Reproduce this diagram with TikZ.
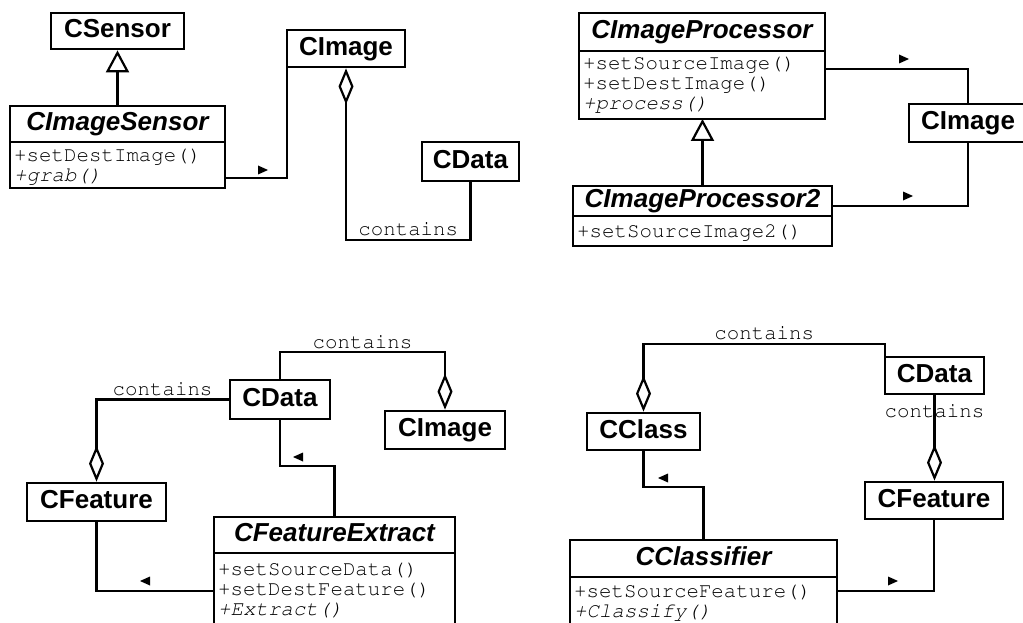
\documentclass[tikz,border=0pt]{standalone}
\usepackage[T1]{fontenc}
\usepackage{fontspec}
\usetikzlibrary{arrows.meta,calc}
\newfontfamily\clsfont{Liberation Sans}
\newcommand\courfont{\fontencoding{T1}\fontfamily{pcr}\selectfont}
\tikzset{
  cls/.style={inner sep=0pt, outer sep=0pt, font=\clsfont\bfseries\fontsize{26}{30}\selectfont, text height=18.7pt, text depth=5pt},
  clsbox/.style={cls, draw, line width=2.8pt, outer sep=1.4pt},
  opsbox/.style={inner sep=0pt, outer sep=0pt},
  boxline/.style={line width=2.8pt},
  divline/.style={line width=1.6pt},
  ops/.style={inner sep=0pt, anchor=base west, font=\courfont\fontsize{20.8}{21}\selectfont},
  lbl/.style={inner sep=0pt, font=\courfont\fontsize{20.8}{21}\selectfont},
  conn/.style={line width=2.8pt},
  agg/.style={conn, -{Diamond[open,length=36pt,width=15pt,line width=2.2pt]}},
  gen/.style={conn, -{Triangle[open,length=22pt,width=23pt,line width=2.2pt]}},
  navr/.pic={\fill (-5,-4.5) -- (5,0) -- (-5,4.5) -- cycle;},
  navl/.pic={\fill (5,-4.5) -- (-5,0) -- (5,4.5) -- cycle;},
}
\begin{document}
\begin{tikzpicture}[x=1pt,y=-1pt]
\clip (0,0) rectangle (1023,623);
\fill[white] (0,0) rectangle (1023,623);

% ---------- top left ----------
\node[clsbox, minimum width=133pt, minimum height=36pt] (csensor) at (117.5,31) {CSensor};
\node[cls, minimum width=215pt, minimum height=36pt] (cis) at (117.5,124) {\itshape CImageSensor};
\node[opsbox, minimum width=215pt, minimum height=46pt, anchor=north] (cisops) at (cis.south) {};
\draw[boxline] (cis.north west) rectangle (cisops.south east);
\draw[divline] (cis.south west) -- (cis.south east);
\node[ops] (cis1) at ($(cis.south west)+(4,20)$) {+setDestImage()};
\node[ops] (cis2) at ($(cis.south west)+(4,40)$) {\itshape +grab()};
\node[clsbox, minimum width=118pt, minimum height=37pt] (cimg1) at (346,48.5) {CImage};
\node[clsbox, minimum width=97pt, minimum height=39pt] (cdata1) at (470.5,161.5) {CData};

\draw[gen] (cis.north) -- (csensor.south);
\draw[conn] ([yshift=10pt]cisops.south east) -| ([xshift=1.4pt,yshift=1.4pt]cimg1.south west);
\pic at (263,170) {navr};
\coordinate (k1) at (0,240);
\draw[agg] (cdata1.south) -- (cdata1.south |- k1) -- node[lbl, anchor=base, yshift=5pt] (l1) {contains} (cimg1.south |- k1) -- (cimg1.south);

% ---------- top right ----------
\node[cls, minimum width=246pt, minimum height=38pt] (cip) at (702,32) {\itshape CImageProcessor};
\node[opsbox, minimum width=246pt, minimum height=68pt, anchor=north] (cipops) at (cip.south) {};
\draw[boxline] (cip.north west) rectangle (cipops.south east);
\draw[divline] (cip.south west) -- (cip.south east);
\node[ops] (cip1) at ($(cip.south west)+(4,19)$) {+setSourceImage()};
\node[ops] (cip2l) at ($(cip.south west)+(4,39)$) {+setDestImage()};
\node[ops] (cip3) at ($(cip.south west)+(4,59)$) {\itshape +process()};

\node[cls, minimum width=259pt, minimum height=30pt] (cipb) at (702.5,201) {\itshape CImageProcessor2};
\node[opsbox, minimum width=259pt, minimum height=30pt, anchor=north] (cipbops) at (cipb.south) {};
\draw[boxline] (cipb.north west) rectangle (cipbops.south east);
\draw[divline] (cipb.south west) -- (cipb.south east);
\node[ops] (cipb1) at ($(cipb.south west)+(4,21)$) {+setSourceImage2()};

\node[clsbox, minimum width=118pt, minimum height=38pt] (cimg2) at (968,123) {CImage};

\draw[gen] (cipb.north) -- (cipb.north |- cipops.south);
\draw[conn] ([yshift=-18pt]cipops.north east) -| (cimg2.north);
\pic at (904,59) {navr};
\draw[conn] ([yshift=-5pt]cipb.east) -| (cimg2.south);
\pic at (908,196) {navr};

% ---------- bottom left ----------
\node[clsbox, minimum width=100pt, minimum height=39pt] (cdata3) at (280,399.5) {CData};
\node[clsbox, minimum width=120pt, minimum height=38pt] (cimg3) at (445,430) {CImage};
\node[clsbox, minimum width=139pt, minimum height=38pt] (cfeat3) at (96.5,502) {CFeature};
\node[cls, minimum width=241pt, minimum height=36pt] (cfe) at (334.5,535) {\itshape CFeatureExtract};
\node[opsbox, minimum width=241pt, minimum height=90pt, anchor=north] (cfeops) at (cfe.south) {};
\draw[boxline] (cfe.north west) rectangle (cfeops.south east);
\draw[divline] (cfe.south west) -- (cfe.south east);
\node[ops] (cfe1) at ($(cfe.south west)+(4,22)$) {+setSourceData()};
\node[ops] (cfe2) at ($(cfe.south west)+(4,42)$) {+setDestFeature()};
\node[ops] (cfe3) at ($(cfe.south west)+(4,62)$) {\itshape +Extract()};

\coordinate (k3) at (0,352);
\draw[agg] (cdata3.north) -- (cdata3.north |- k3) -- node[lbl, anchor=base, yshift=4pt] (l3) {contains} (cimg3.north |- k3) -- (cimg3.north);
\draw[agg] (cdata3.west) -- node[lbl, anchor=base, yshift=4.5pt] (l4) {contains} (cdata3.west -| cfeat3.north) -- (cfeat3.north);
\coordinate (k4) at (0,466);
\draw[conn] (cdata3.south) -- (cdata3.south |- k4) -- (cfe.north |- k4) -- (cfe.north);
\pic at (298,457) {navl};
\draw[conn] (cfeat3.south) |- ([yshift=-38pt]cfeops.north west);
\pic at (145,581) {navl};

% ---------- bottom right ----------
\node[clsbox, minimum width=99pt, minimum height=37pt] (cdata4) at (934.5,375.5) {CData};
\node[clsbox, minimum width=113pt, minimum height=37pt] (cclass) at (643.5,431.5) {CClass};
\node[clsbox, minimum width=138pt, minimum height=37pt] (cfeat4) at (934,500.5) {CFeature};
\node[cls, minimum width=267pt, minimum height=37pt] (ccl) at (703.5,558.5) {\itshape CClassifier};
\node[opsbox, minimum width=267pt, minimum height=80pt, anchor=north] (cclops) at (ccl.south) {};
\draw[boxline] (ccl.north west) rectangle (cclops.south east);
\draw[divline] (ccl.south west) -- (ccl.south east);
\node[ops] (ccl1) at ($(ccl.south west)+(4,20)$) {+setSourceFeature()};
\node[ops] (ccl2) at ($(ccl.south west)+(4,40)$) {\itshape +Classify()};

\coordinate (k5) at (0,344);
\coordinate (cd4nw) at ([xshift=1.4pt,yshift=-1.4pt]cdata4.north west);
\draw[agg] (cd4nw) -- (cd4nw |- k5) -- node[lbl, anchor=base, yshift=5pt] (l5) {contains} (cclass.north |- k5) -- (cclass.north);
\draw[agg] (cdata4.south) -- node[lbl, pos=0.26, anchor=base] (l6) {contains} (cdata4.south |- cfeat4.north);
\coordinate (k6) at (0,487);
\draw[conn] (cclass.south) -- (cclass.south |- k6) -- (ccl.north |- k6) -- (ccl.north);
\pic at (663,478) {navl};
\draw[conn] (cfeat4.south) |- ([yshift=-14pt]cclops.north east);
\pic at (893,581) {navr};
\end{tikzpicture}
\end{document}
